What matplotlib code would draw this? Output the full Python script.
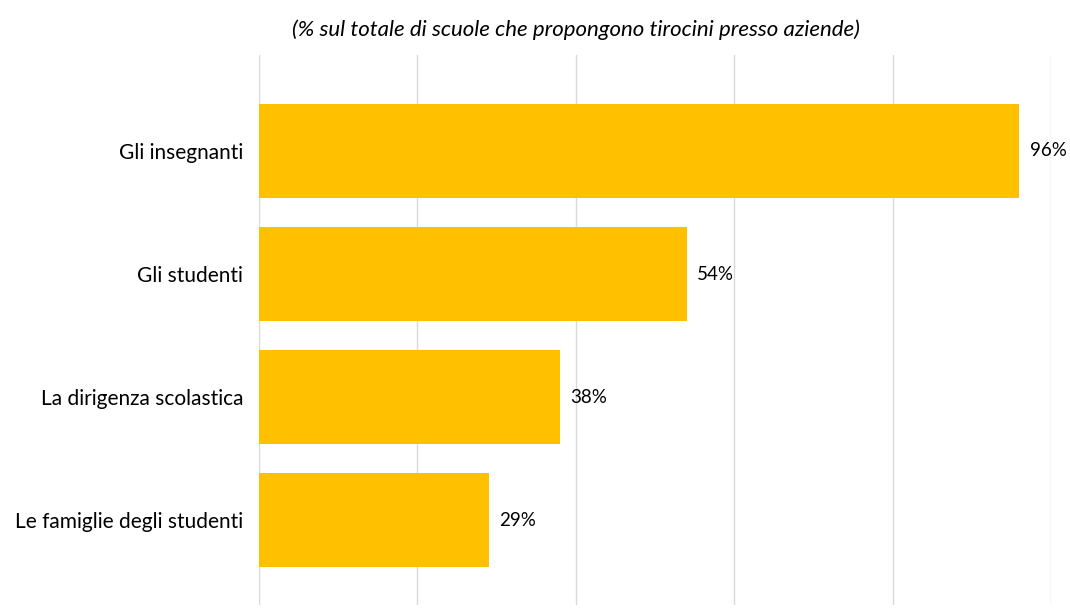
import matplotlib
matplotlib.use("Agg")
import matplotlib.pyplot as plt

categorie = ["Gli insegnanti", "Gli studenti", "La dirigenza scolastica",
             "Le famiglie degli studenti"]
valori = [96, 54, 38, 29]
titolo = "(% sul totale di scuole che propongono tirocini presso aziende)"

plt.rcParams['font.family'] = ['Lato', 'DejaVu Sans']

fig = plt.figure(figsize=(10.7, 6.15), dpi=100)
ax = fig.add_axes([259/1070, 1-605/615, (1051-259)/1070, 550/615])

y = list(range(len(categorie)))
ax.barh(y, valori, height=0.77, color="#FFC000", zorder=3)

for yi, v in zip(y, valori):
    ax.text(v + 1.3, yi, f"{v}%", va="center", ha="left", fontsize=13.5,
            color="#000000", zorder=4)

ax.set_xlim(0, 100)
ax.set_ylim(3.69, -0.78)
ax.set_xticks([0, 20, 40, 60, 80, 100])
ax.set_xticklabels([])
ax.set_yticks(y)
ax.set_yticklabels(categorie, fontsize=15)
ax.tick_params(length=0, pad=11.5)
ax.grid(axis="x", color="#D9D9D9", linewidth=1, zorder=0)
for s in ax.spines.values():
    s.set_visible(False)

fig.text(576/1070, 1-30/615, titolo, ha="center", va="center",
         fontsize=16, style="italic", color="#000000")

fig.savefig("out.png", dpi=100)
